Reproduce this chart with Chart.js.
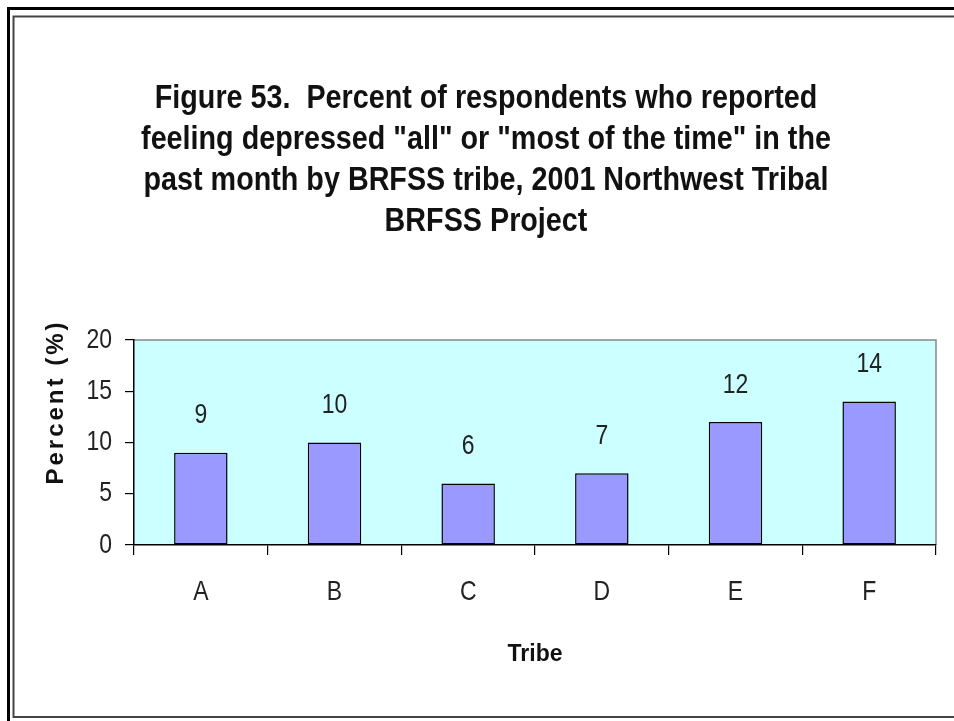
<!DOCTYPE html>
<html>
<head>
<meta charset="utf-8">
<script src="https://cdn.jsdelivr.net/npm/chart.js@4/dist/chart.umd.min.js"></script>
<style>
  body { margin: 0; background: #fff; }
  canvas { display: block; }
</style>
</head>
<body>
<canvas id="chart" width="954" height="721"></canvas>
<script>
// Data
const tribes = ["A", "B", "C", "D", "E", "F"];
const percents = [9, 10, 6, 7, 12, 14];
const yTicks = [0, 5, 10, 15, 20];
const titleLines = [
    "Figure 53.  Percent of respondents who reported",
    "feeling depressed \"all\" or \"most of the time\" in the",
    "past month by BRFSS tribe, 2001 Northwest Tribal",
    "BRFSS Project"
];

const sans = "'Liberation Sans', Arial, sans-serif";

// no Arial Narrow installed, so squeeze Liberation Sans horizontally
function narrowText(ctx, text, x, y, squeeze) {
    ctx.save();
    ctx.translate(x, y);
    ctx.scale(squeeze || 0.82, 1);
    ctx.fillText(text, 0, 0);
    ctx.restore();
}

// Page frame, plot background and all text
const framePlugin = {
    id: "frame",
    beforeDraw(chart) {
        const ctx = chart.ctx;
        const a = chart.chartArea;
        ctx.save();
        ctx.fillStyle = "#fff";
        ctx.fillRect(0, 0, chart.width, chart.height);

        // double frame
        ctx.strokeStyle = "#000";
        ctx.lineWidth = 3;
        ctx.beginPath();
        ctx.moveTo(chart.width + 5, 8.5);
        ctx.lineTo(8.5, 8.5);
        ctx.lineTo(8.5, chart.height + 5);
        ctx.stroke();
        ctx.strokeStyle = "#444";
        ctx.lineWidth = 2;
        ctx.beginPath();
        ctx.moveTo(chart.width + 5, 16.5);
        ctx.lineTo(13.5, 16.5);
        ctx.lineTo(13.5, 717);
        ctx.lineTo(chart.width + 5, 717);
        ctx.stroke();

        // plot area
        ctx.fillStyle = "#CCFFFF";
        ctx.fillRect(a.left, a.top, a.right - a.left, a.bottom - a.top);
        ctx.strokeStyle = "#888";
        ctx.lineWidth = 1.5;
        ctx.beginPath();
        ctx.moveTo(a.left, a.top);
        ctx.lineTo(a.right, a.top);
        ctx.lineTo(a.right, a.bottom);
        ctx.stroke();

        // title
        ctx.fillStyle = "#111";
        ctx.textAlign = "center";
        ctx.textBaseline = "alphabetic";
        ctx.font = "bold 34px " + sans;
        titleLines.forEach((line, i) => {
            narrowText(ctx, line, 486, 108 + i * 41, 0.845);
        });

        // axis titles
        ctx.font = "bold 23px " + sans;
        ctx.textBaseline = "middle";
        ctx.fillText("Tribe", (a.left + a.right) / 2, 655);
        ctx.font = "bold 24px " + sans;
        ctx.translate(56, 402);
        ctx.rotate(-Math.PI / 2);
        ctx.letterSpacing = "3px";
        ctx.fillText("Percent (%)", 0, 0);
        ctx.restore();
    },
    afterDraw(chart) {
        const ctx = chart.ctx;
        const xs = chart.scales.x;
        const ys = chart.scales.y;
        const meta = chart.getDatasetMeta(0);
        ctx.save();
        ctx.fillStyle = "#222";
        ctx.font = "28px " + sans;
        ctx.textBaseline = "middle";

        // value labels above bars
        ctx.textAlign = "center";
        meta.data.forEach((bar, i) => {
            narrowText(ctx, String(percents[i]), bar.x, bar.y - 37);
        });

        // category labels
        tribes.forEach((t, i) => {
            narrowText(ctx, t, xs.getPixelForTick(i), 592);
        });

        // y tick labels
        ctx.textAlign = "right";
        ys.ticks.forEach((tk, i) => {
            narrowText(ctx, String(tk.value), 112, ys.getPixelForTick(i));
        });
        ctx.restore();
    }
};

new Chart(document.getElementById("chart"), {
    type: "bar",
    data: {
        labels: tribes,
        datasets: [{
            data: percents,
            backgroundColor: "#9999FF",
            borderColor: "#000",
            borderWidth: 1.5,
            borderSkipped: false,
            categoryPercentage: 1,
            barPercentage: 0.4
        }]
    },
    options: {
        responsive: false,
        animation: false,
        layout: { padding: { top: 340, right: 18, left: 0, bottom: 0 } },
        plugins: {
            legend: { display: false },
            title: { display: false },
            tooltip: { enabled: false }
        },
        scales: {
            x: {
                grid: { display: true, drawOnChartArea: false, offset: true, tickLength: 10, color: "#000", lineWidth: 1.2 },
                border: { display: true, color: "#000", width: 1.5 },
                ticks: { display: false },
                afterFit(scale) { scale.height = 721 - 545; }
            },
            y: {
                min: 0,
                max: 20,
                afterBuildTicks(scale) { scale.ticks = yTicks.map(v => ({ value: v })); },
                grid: { display: true, drawOnChartArea: false, tickLength: 9, color: "#000", lineWidth: 1.2 },
                border: { display: true, color: "#000", width: 1.5 },
                ticks: { display: false },
                afterFit(scale) { scale.width = 134; }
            }
        }
    },
    plugins: [framePlugin]
});
</script>
</body>
</html>
